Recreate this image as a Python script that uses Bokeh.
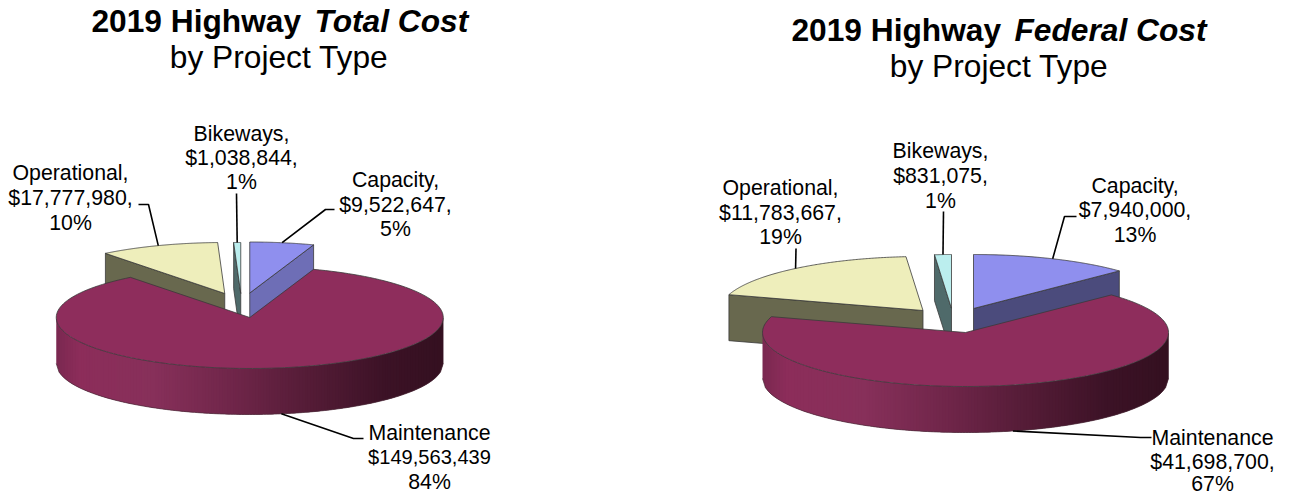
import numpy as np
from bokeh.plotting import figure
from bokeh.models import Range1d
from bokeh.core.properties import value
from bokeh.embed import file_html
from bokeh.resources import INLINE

categories = ["Capacity", "Maintenance", "Operational", "Bikeways"]
total_values = [9522647, 149563439, 17777980, 1038844]
total_pct = ["5%", "84%", "10%", "1%"]
federal_values = [7940000, 41698700, 11783667, 831075]
federal_pct = ["13%", "67%", "19%", "1%"]

FONT = value("Liberation Sans")
W, H = 1290, 494
p = figure(width=W, height=H, output_backend="svg", toolbar_location=None,
           x_range=Range1d(0, W), y_range=Range1d(H, 0),
           min_border=0, outline_line_color=None, background_fill_color="white")
p.axis.visible = False
p.grid.visible = False

TOP = {"Capacity": "#8F8FEE", "Maintenance": "#8E2D5C", "Operational": "#EEEEBB", "Bikeways": "#BBEEEE"}
EDGE = "#3a3a3a"
STOPS_T = [0.0, 0.06, 0.25, 0.45, 0.65, 0.85, 1.0]
STOPS_C = [(122, 40, 80), (140, 45, 90), (135, 48, 90), (112, 38, 74), (85, 28, 55), (60, 18, 38), (52, 16, 32)]


def rim(c, a, rx, ry):
    return c[0] + rx * np.sin(a), c[1] - ry * np.cos(a)


def grad(t):
    return "#%02x%02x%02x" % tuple(int(round(np.interp(t, STOPS_T, [s[i] for s in STOPS_C]))) for i in range(3))


def pie(values, pct, center, rx, ry, depth, offsets, side_cols, labels, elbows, money_size="21.3px"):
    fr = np.array(values, float) / sum(values)
    ends = np.cumsum(fr) * 2 * np.pi
    starts = ends - fr * 2 * np.pi
    span = {c: (s, e) for c, s, e in zip(categories, starts, ends)}
    cen = {c: (center[0] + offsets[c][0], center[1] + offsets[c][1]) for c in categories}

    def top(c):
        s, e = span[c]
        a = np.linspace(s, e, 160)
        x, y = rim(cen[c], a, rx, ry)
        return [cen[c][0], *x], [cen[c][1], *y]

    def cut(c, ang):
        x, y = rim(cen[c], ang, rx, ry)
        cx, cy = cen[c]
        return [cx, x, x, cx], [cy, y, y + depth, cy + depth]

    # back slices first, the large slice last so it covers their hidden parts
    for c, ang in (("Operational", span["Operational"][0]), ("Bikeways", span["Bikeways"][0]), ("Capacity", span["Capacity"][1])):
        xs, ys = cut(c, ang)
        p.patch(xs, ys, fill_color=side_cols[c], line_color=EDGE, line_width=0.8)
        xs, ys = top(c)
        p.patch(xs, ys, fill_color=TOP[c], line_color=EDGE, line_width=0.8)

    c = "Maintenance"
    u = np.linspace(-1, 1, 141)
    a = np.pi - np.arcsin(u)
    x, y = rim(cen[c], a, rx, ry)
    sx, sy, col = [], [], []
    for i in range(len(a) - 1):
        j = min(i + 2, len(a) - 1)  # each strip overlaps the next, so no seams show
        sel = list(range(i, j + 1))
        sx.append(list(x[sel]) + list(x[sel][::-1]))
        sy.append(list(y[sel]) + list((y[sel] + depth)[::-1]))
        col.append(grad((0.5 * (u[i] + u[i + 1]) + 1) / 2))
    p.patches(sx, sy, fill_color=col, line_color=None)
    p.line(x, y + depth, line_color="#4a2a38", line_width=0.7)
    xs, ys = top(c)
    p.patch(xs, ys, fill_color=TOP[c], line_color=EDGE, line_width=0.8)

    # leaders and labels
    for i, c in enumerate(categories):
        mid = 0.5 * (span[c][0] + span[c][1])
        mx, my = rim(cen[c], mid, rx, ry)
        if np.cos(mid) < 0:
            my += depth
        ex = elbows[c]
        p.line([mx] + [e[0] for e in ex], [my] + [e[1] for e in ex], line_color="black", line_width=1.6)
        lx, lys = labels[c]
        name = c if c == "Maintenance" else c + ","
        money = "$" + format(values[i], ",") + ("" if values[i] > 1e8 else ",")
        sizes = ("21.3px", money_size if values[i] > 1e8 else "21.3px", "21.3px")
        for ly, t, fs in zip(lys, (name, money, pct[i]), sizes):
            p.text([lx], [ly], text=[t], text_font=FONT, text_font_size=fs, text_color="black",
                   text_align="center", text_baseline="middle")


def title(x1, x2, xc, y1, y2, italic):
    p.text([x1], [y1], text=["2019 Highway"], text_font=FONT, text_font_size="31.7px", text_font_style="bold",
           text_color="black", text_align="left", text_baseline="middle")
    p.text([x2], [y1], text=[italic], text_font=FONT, text_font_size="31.7px", text_font_style="bold italic",
           text_color="black", text_align="left", text_baseline="middle")
    p.text([xc], [y2], text=["by Project Type"], text_font=FONT, text_font_size="31.7px",
           text_color="black", text_align="center", text_baseline="middle")


title(91, 314, 278.5, 20.5, 56.5, "Total Cost")
pie(total_values, total_pct, (249.25, 317), 193.5, 51, 46,
    {"Capacity": (0, -24.5), "Maintenance": (0, 0), "Operational": (-25, -24), "Bikeways": (-9, -24)},
    {"Capacity": "#6E6EB6", "Operational": "#68684E", "Bikeways": "#4F6A6A"},
    {"Capacity": (395, (179, 204, 228)), "Maintenance": (429, (432, 456, 481)),
     "Operational": (70, (172, 197, 222)), "Bikeways": (241, (133.5, 157, 181))},
    {"Capacity": [(325, 209), (334, 209)], "Maintenance": [(353, 438), (363, 438)],
     "Operational": [(148, 204), (138, 204)], "Bikeways": [(236, 193)]},
    money_size="20.1px")

title(791, 1014, 998.5, 29.5, 65.5, "Federal Cost")
pie(federal_values, federal_pct, (965, 332), 203, 54, 46,
    {"Capacity": (8, -24), "Maintenance": (0, 0), "Operational": (-42.5, -22), "Bikeways": (-14, -24)},
    {"Capacity": "#4B4B7C", "Operational": "#68684E", "Bikeways": "#4F6A6A"},
    {"Capacity": (1134.5, (185, 209, 234)), "Maintenance": (1212, (437, 461, 483)),
     "Operational": (780, (187, 212, 236)), "Bikeways": (940, (150, 175, 200))},
    {"Capacity": [(1064, 216), (1076, 216)], "Maintenance": [(1140, 437), (1151, 437)],
     "Operational": [(795.5, 248)], "Bikeways": [(943, 211)]})

open("out.html", "w").write(file_html(p, INLINE))
